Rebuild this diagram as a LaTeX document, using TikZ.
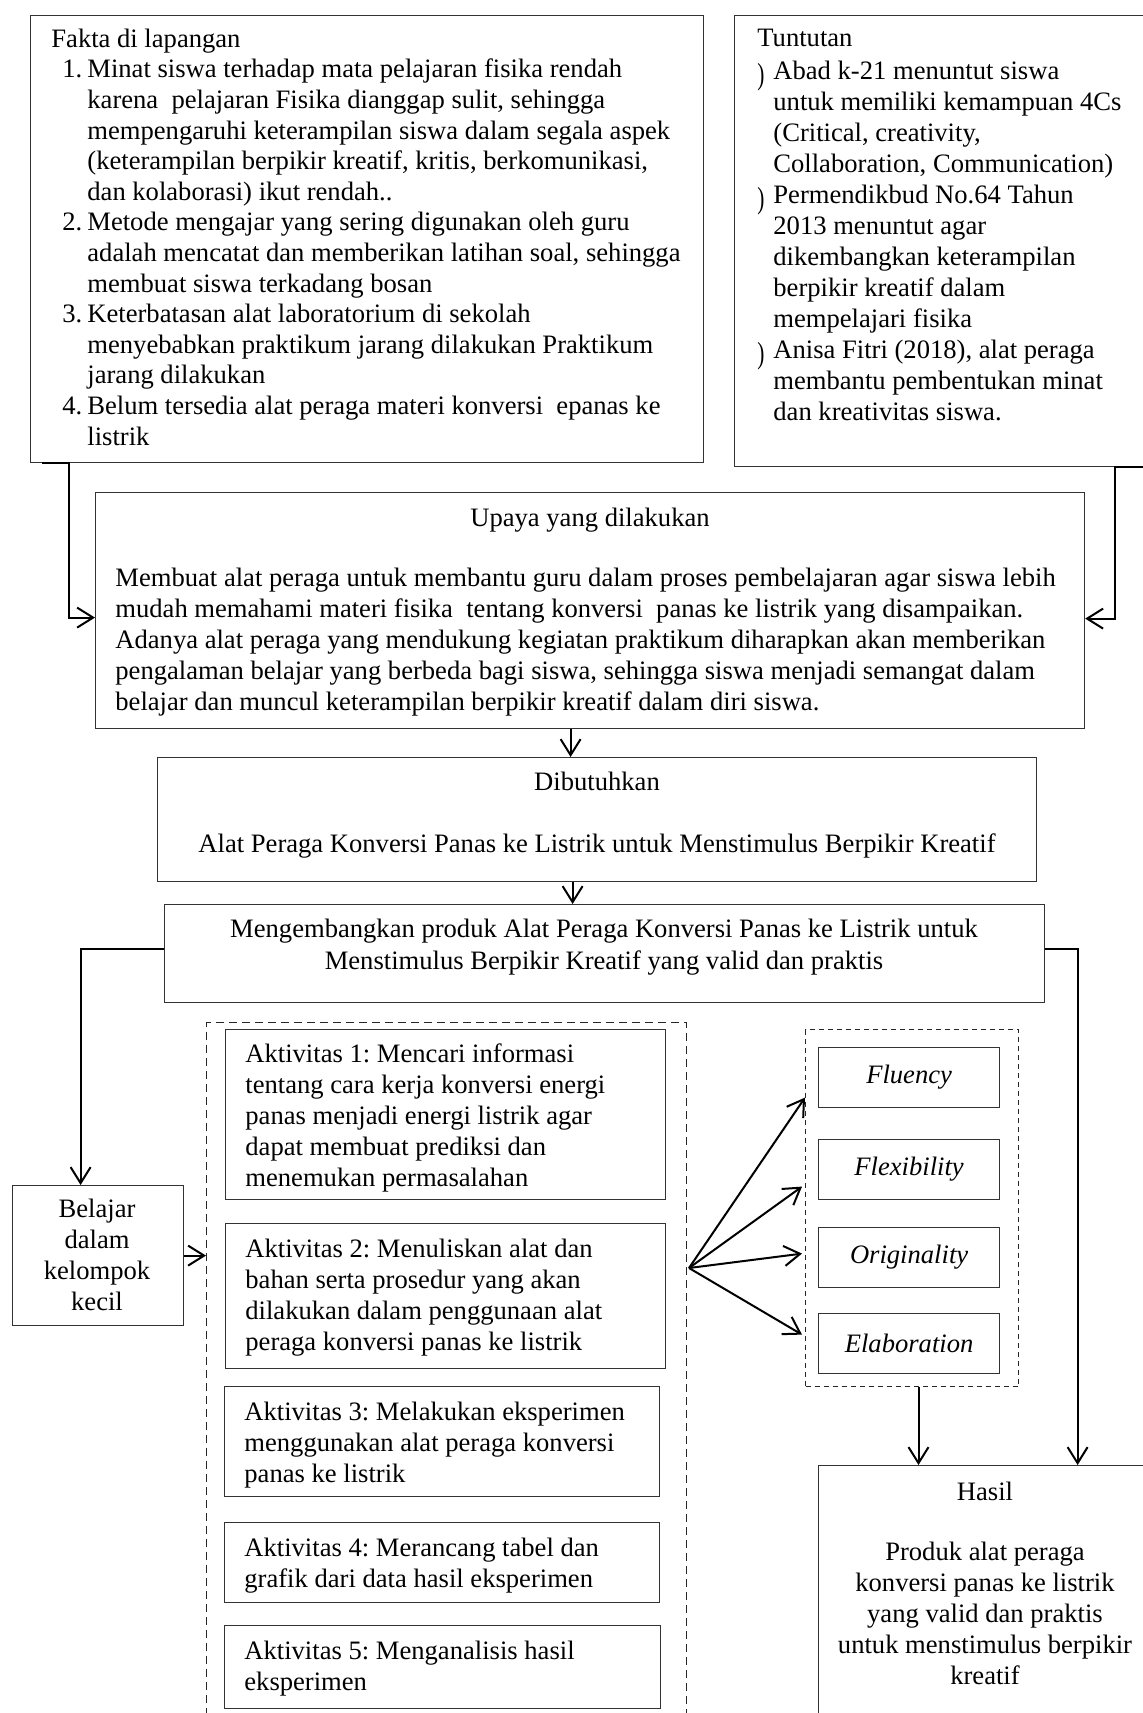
\documentclass[tikz,border=0pt]{standalone}
\usepackage{fontspec}
\usepackage{graphicx}
\setmainfont{Liberation Serif}
\usetikzlibrary{arrows.meta}
\frenchspacing
\newcommand\tbul{\makebox[8pt][l]{\raisebox{-2.5pt}{\scalebox{0.8}[1.15]{)}}}}
\begin{document}
\begin{tikzpicture}[x=0.5pt,y=-0.5pt,
  box/.style={draw=black!80, line width=0.6pt, inner sep=0pt, anchor=north west},
  dboxa/.style={draw=black!85, line width=0.6pt, inner sep=0pt, anchor=north west, dash pattern=on 4pt off 2.5pt},
  dboxb/.style={draw=black!85, line width=0.5pt, inner sep=0pt, anchor=north west, dash pattern=on 2.5pt off 2pt},
  conn/.style={line width=1pt, -{Straight Barb[length=8pt,width=10pt]}},
  txt/.style={inner sep=0pt, font=\fontsize{13.3}{15.5}\selectfont},
  attr/.style={box, minimum width=90.5pt, minimum height=30pt, font=\fontsize{13.3}{15.5}\selectfont\itshape}
]
\useasboundingbox (0,0) rectangle (1143,1713);

% Fakta
\node[box, minimum width=336.5pt, minimum height=223.5pt] (fakta) at (30,15) {};
\node[txt, anchor=base west, align=left, font=\fontsize{13.3}{15.3}\selectfont] (faktatxt) at (51,445) {Fakta di lapangan\\
\hspace*{5.5pt}\makebox[12.5pt][l]{1.}Minat siswa terhadap mata pelajaran fisika rendah\\
\hspace*{18pt}karena\ \ pelajaran Fisika dianggap sulit, sehingga\\
\hspace*{18pt}mempengaruhi keterampilan siswa dalam segala aspek\\
\hspace*{18pt}(keterampilan berpikir kreatif, kritis, berkomunikasi,\\
\hspace*{18pt}dan kolaborasi) ikut rendah..\\
\hspace*{5.5pt}\makebox[12.5pt][l]{2.}Metode mengajar yang sering digunakan oleh guru\\
\hspace*{18pt}adalah mencatat dan memberikan latihan soal, sehingga\\
\hspace*{18pt}membuat siswa terkadang bosan\\
\hspace*{5.5pt}\makebox[12.5pt][l]{3.}Keterbatasan alat laboratorium di sekolah\\
\hspace*{18pt}menyebabkan praktikum jarang dilakukan Praktikum\\
\hspace*{18pt}jarang dilakukan\\
\hspace*{5.5pt}\makebox[12.5pt][l]{4.}Belum tersedia alat peraga materi konversi\ \ epanas ke\\
\hspace*{18pt}listrik};

% Tuntutan
\node[box, minimum width=208pt, minimum height=225.5pt] (tunt) at (734,15) {};
\node[txt, anchor=base west, align=left] (tunttxt) at (757,420) {Tuntutan\\[1pt]
\tbul Abad k-21 menuntut siswa\\
\hspace*{8pt}untuk memiliki kemampuan 4Cs\\
\hspace*{8pt}(Critical, creativity,\\
\hspace*{8pt}Collaboration, Communication)\\
\tbul Permendikbud No.64 Tahun\\
\hspace*{8pt}2013 menuntut agar\\
\hspace*{8pt}dikembangkan keterampilan\\
\hspace*{8pt}berpikir kreatif dalam\\
\hspace*{8pt}mempelajari fisika\\
\tbul Anisa Fitri (2018), alat peraga\\
\hspace*{8pt}membantu pembentukan minat\\
\hspace*{8pt}dan kreativitas siswa.};

% Upaya
\node[box, minimum width=494.5pt, minimum height=118pt] (upaya) at (95,492) {};
\node[txt, anchor=base] (upayattl) at (590,526) {Upaya yang dilakukan};
\node[txt, anchor=base west, align=left] (upayatxt) at (115,710) {Membuat alat peraga untuk membantu guru dalam proses pembelajaran agar siswa lebih\\
mudah memahami materi fisika\ \ tentang konversi\ \ panas ke listrik yang disampaikan.\\
Adanya alat peraga yang mendukung kegiatan praktikum diharapkan akan memberikan\\
pengalaman belajar yang berbeda bagi siswa, sehingga siswa menjadi semangat dalam\\
belajar dan muncul keterampilan berpikir kreatif dalam diri siswa.};

% Dibutuhkan
\node[box, minimum width=439.5pt, minimum height=62pt] (dibut) at (157,757) {};
\node[txt, anchor=base] (dibutttl) at (597,790) {Dibutuhkan};
\node[txt, anchor=base] (dibuttxt) at (597,852) {Alat Peraga Konversi Panas ke Listrik untuk Menstimulus Berpikir Kreatif};

% Mengembangkan
\node[box, minimum width=440pt, minimum height=49pt] (meng) at (164,904) {};
\node[txt, anchor=base, align=center, font=\fontsize{13.3}{16}\selectfont] (mengtxt) at (604,969) {Mengembangkan produk Alat Peraga Konversi Panas ke Listrik untuk\\Menstimulus Berpikir Kreatif yang valid dan praktis};

% Belajar
\node[box, minimum width=85.5pt, minimum height=70pt] (belajar) at (12,1185) {};
\node[txt, anchor=base, align=center] (belajartxt) at (97,1310) {Belajar\\dalam\\kelompok\\kecil};

% Aktivitas
\node[dboxa, minimum width=240pt, minimum height=354pt] (aktbox) at (206,1022) {};
\node[box, minimum width=220pt, minimum height=85pt] (akta) at (225,1029) {};
\node[txt, anchor=base west, align=left] (aktatxt) at (245,1186) {Aktivitas 1: Mencari informasi\\tentang cara kerja konversi energi\\panas menjadi energi listrik agar\\dapat membuat prediksi dan\\menemukan permasalahan};
\node[box, minimum width=220pt, minimum height=72.5pt] (aktb) at (225,1223) {};
\node[txt, anchor=base west, align=left] (aktbtxt) at (245,1350) {Aktivitas 2: Menuliskan alat dan\\bahan serta prosedur yang akan\\dilakukan dalam penggunaan alat\\peraga konversi panas ke listrik};
\node[box, minimum width=217.5pt, minimum height=55pt] (aktc) at (224,1386) {};
\node[txt, anchor=base west, align=left] (aktctxt) at (244,1482) {Aktivitas 3: Melakukan eksperimen\\menggunakan alat peraga konversi\\panas ke listrik};
\node[box, minimum width=217.5pt, minimum height=40pt] (aktd) at (224,1522) {};
\node[txt, anchor=base west, align=left] (aktdtxt) at (244,1587) {Aktivitas 4: Merancang tabel dan\\grafik dari data hasil eksperimen};
\node[box, minimum width=218pt, minimum height=41.5pt] (akte) at (224,1625) {};
\node[txt, anchor=base west, align=left] (aktetxt) at (244,1690) {Aktivitas 5: Menganalisis hasil\\eksperimen};

% Attributes
\node[dboxb, minimum width=106.5pt, minimum height=178.5pt] (attrbox) at (805,1029) {};
\node[attr] (flu) at (818,1047) {Fluency};
\node[attr] (fle) at (818,1139) {Flexibility};
\node[attr] (ori) at (818,1227) {Originality};
\node[attr] (ela) at (818,1313) {Elaboration};

% Hasil
\node[box, minimum width=170pt, minimum height=150pt] (hasil) at (818,1465) {};
\node[txt, anchor=base] (hasilttl) at (985,1500) {Hasil};
\node[txt, anchor=base, align=center] (hasiltxt) at (985,1684) {Produk alat peraga\\konversi panas ke listrik\\yang valid dan praktis\\untuk menstimulus berpikir\\kreatif};

% Connectors
\draw[conn] ([xshift=6pt]fakta.south west) -- ([xshift=19.5pt]fakta.south west) |- ([yshift=-3.5pt]upaya.west);
\draw[conn] ([xshift=-3.5pt]tunt.south east) -- ([xshift=-18pt]tunt.south east) |- ([yshift=-4pt]upaya.east);
\draw[conn] ([xshift=-9.75pt]upaya.south) -- ([xshift=-9.75pt]upaya.south |- dibut.north);
\draw[conn] ([xshift=-12.25pt]dibut.south) -- ([xshift=-12.25pt]dibut.south |- meng.north);
\draw[conn] ([yshift=2.5pt]meng.west) -| ([xshift=-8.75pt]belajar.north);
\draw[conn] ([yshift=2.5pt]meng.east) -| ([xshift=44.5pt]hasil.north);
\draw[conn] (belajar.east) -- (belajar.east -| aktbox.west);
\draw[conn] ([xshift=3.25pt]attrbox.south) -- ([xshift=3.25pt]attrbox.south |- hasil.north);
\coordinate (fan) at (689,1268);
\draw[conn] (fan) -- ([xshift=-6.5pt,yshift=-10pt]flu.west);
\draw[conn] (fan) -- ([xshift=-8pt,yshift=-8.5pt]fle.west);
\draw[conn] (fan) -- ([xshift=-8pt,yshift=2pt]ori.west);
\draw[conn] (fan) -- ([xshift=-8pt,yshift=4.5pt]ela.west);
\end{tikzpicture}
\end{document}
